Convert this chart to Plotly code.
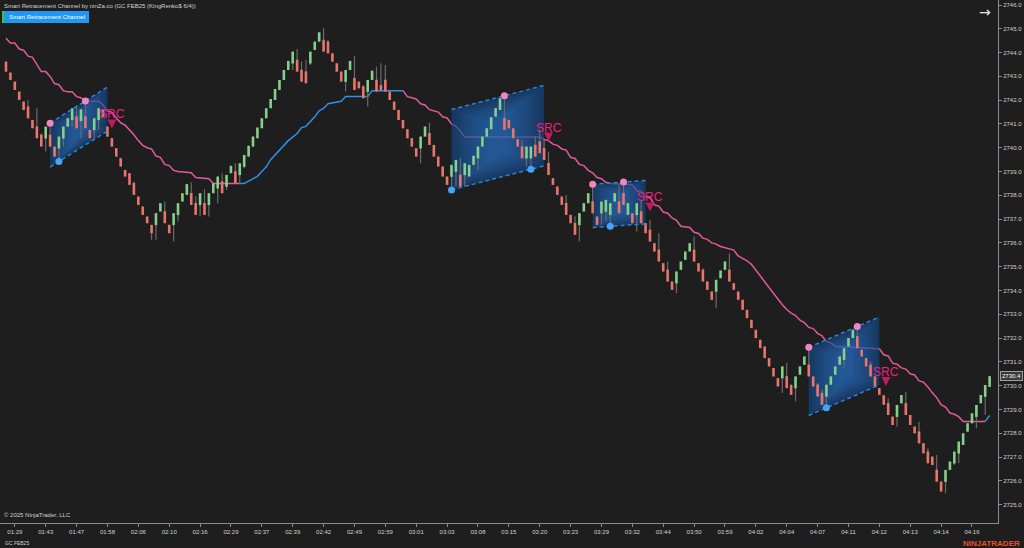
import plotly.graph_objects as go

# ---------------- data ----------------
open_ = [2743.62,2743.16,2742.78,2742.36,2741.94,2741.74,2741.17,2740.90,2740.55,2740.39,
         2740.55,2740.05,2739.97,2740.39,2740.89,2741.16,2741.32,2741.12,2741.32,2740.75,
         2740.74,2741.16,2741.59,2740.89,2740.40,2739.98,2739.56,2739.07,2738.93,2738.52,
         2737.95,2737.53,2737.11,2736.76,2736.75,2737.32,2737.33,2736.76,2736.75,2737.17,
         2737.74,2738.02,2738.10,2737.68,2737.59,2737.68,2737.59,2738.09,2738.29,2738.59,
         2738.36,2738.93,2739.01,2738.85,2739.20,2739.63,2740.05,2740.40,2740.82,2741.24,
         2741.66,2742.01,2742.43,2742.85,2743.27,2743.54,2743.70,2743.28,2743.21,2743.54,
         2744.11,2744.46,2744.54,2744.47,2743.97,2743.55,2743.20,2742.77,2743.27,2742.93,
         2742.78,2742.58,2742.35,2742.85,2742.86,2742.63,2742.86,2742.36,2741.94,2741.59,
         2741.17,2740.78,2740.40,2739.98,2739.97,2740.47,2740.62,2740.12,2739.63,2739.21,
         2738.79,2738.78,2738.99,2738.87,2738.85,2738.79,2739.28,2739.55,2740.05,2740.47,
         2740.78,2741.31,2741.59,2741.25,2741.17,2740.82,2740.36,2740.06,2739.55,2739.55,
         2740.13,2740.27,2739.99,2739.36,2738.72,2738.37,2737.95,2737.68,2737.18,2736.84,
         2736.75,2737.32,2737.67,2737.75,2737.11,2737.24,2737.31,2737.17,2737.74,2737.75,
         2738.10,2737.18,2737.25,2737.17,2737.33,2736.83,2736.56,2735.99,2735.72,2735.15,
         2734.88,2734.38,2734.30,2734.87,2735.29,2735.64,2735.72,2735.15,2734.88,2734.38,
         2733.96,2733.95,2734.52,2734.87,2734.88,2734.31,2733.96,2733.61,2733.19,2732.77,
         2732.35,2731.93,2731.65,2731.16,2730.74,2730.32,2730.31,2730.40,2730.04,2729.89,
         2730.46,2730.88,2730.89,2730.39,2730.05,2729.70,2729.54,2730.04,2730.46,2730.88,
         2731.08,2731.65,2732.00,2732.08,2731.51,2731.16,2730.89,2730.39,2729.90,2729.60,
         2729.27,2728.70,2728.69,2729.26,2729.27,2728.77,2728.28,2728.08,2727.58,2727.24,
         2727.02,2726.47,2725.97,2725.96,2726.46,2726.73,2727.15,2727.51,2728.07,2728.42,
         2728.69,2729.26,2729.53,2729.95]
high = [2743.62,2743.16,2742.78,2742.36,2741.94,2742.01,2741.17,2741.66,2740.61,2740.89,
        2741.03,2740.05,2740.47,2740.89,2741.24,2741.66,2741.80,2741.62,2741.97,2740.75,
        2741.24,2741.66,2741.59,2740.89,2740.40,2739.98,2739.56,2739.07,2738.93,2738.58,
        2737.95,2737.53,2737.11,2736.76,2737.25,2737.67,2737.74,2736.76,2737.25,2737.67,
        2738.09,2738.47,2738.55,2737.95,2738.09,2738.26,2738.09,2738.51,2738.79,2738.93,
        2738.86,2739.24,2739.35,2739.35,2739.70,2740.08,2740.47,2740.85,2741.24,2741.66,
        2742.05,2742.47,2742.85,2743.27,2743.65,2744.04,2744.15,2743.62,2743.69,2744.04,
        2744.46,2744.85,2745.02,2744.53,2743.97,2743.55,2743.20,2743.27,2743.65,2743.87,
        2742.78,2742.64,2742.85,2743.24,2743.41,2743.55,2743.48,2742.36,2741.94,2741.59,
        2741.17,2740.78,2740.40,2739.98,2740.47,2740.89,2741.06,2740.12,2739.63,2739.21,
        2738.79,2739.28,2739.49,2739.56,2739.35,2739.28,2739.66,2740.05,2740.47,2740.82,
        2741.28,2741.66,2742.08,2742.19,2741.17,2740.82,2740.36,2740.33,2740.05,2740.05,
        2740.47,2740.75,2740.33,2739.84,2738.72,2738.37,2737.95,2738.02,2737.18,2737.11,
        2737.25,2737.67,2738.09,2738.51,2737.11,2737.74,2737.81,2737.67,2738.09,2738.44,
        2738.58,2737.67,2737.25,2737.67,2737.81,2736.83,2736.97,2735.99,2736.41,2735.15,
        2735.22,2734.38,2734.80,2735.22,2735.64,2735.99,2736.27,2735.15,2734.94,2734.38,
        2733.96,2734.45,2734.84,2735.22,2735.57,2734.31,2733.96,2733.61,2733.19,2732.77,
        2732.35,2731.93,2731.65,2731.16,2730.74,2730.32,2730.81,2730.95,2730.04,2730.39,
        2730.81,2731.23,2731.65,2730.39,2730.11,2729.83,2730.04,2730.39,2730.81,2731.23,
        2731.58,2732.00,2732.35,2732.49,2731.51,2731.16,2731.02,2730.39,2729.90,2729.60,
        2729.47,2728.70,2729.19,2729.61,2729.75,2728.77,2728.28,2728.49,2727.58,2727.37,
        2727.02,2727.09,2725.97,2726.46,2726.81,2727.23,2727.65,2728.00,2728.42,2728.84,
        2729.19,2729.61,2730.03,2730.40]
low = [2743.20,2742.85,2742.43,2742.01,2741.59,2741.24,2740.82,2740.40,2740.05,2739.84,
       2740.05,2739.63,2739.42,2740.05,2740.89,2740.89,2740.82,2740.40,2740.82,2740.40,
       2740.33,2740.75,2741.31,2740.47,2740.05,2739.63,2739.21,2738.79,2738.44,2738.02,
       2737.60,2737.18,2736.83,2736.13,2736.13,2737.32,2736.83,2736.41,2736.06,2736.90,
       2737.74,2738.02,2737.60,2737.18,2737.11,2737.18,2737.11,2738.09,2737.67,2738.09,
       2738.23,2738.93,2738.51,2738.51,2739.14,2739.63,2740.05,2740.40,2740.82,2741.24,
       2741.66,2742.01,2742.43,2742.85,2743.27,2743.27,2743.20,2742.78,2742.71,2743.48,
       2744.11,2744.46,2744.04,2743.97,2743.62,2743.20,2742.78,2742.36,2743.27,2742.43,
       2742.50,2742.08,2741.73,2742.85,2742.36,2742.43,2742.36,2742.01,2741.59,2741.17,
       2740.82,2740.40,2740.05,2739.63,2739.35,2740.47,2740.12,2739.63,2739.21,2738.79,
       2738.44,2738.23,2738.37,2738.37,2738.37,2738.79,2739.28,2739.07,2740.05,2740.47,
       2740.75,2741.31,2741.59,2740.75,2740.82,2740.40,2740.05,2739.56,2739.21,2739.10,
       2739.63,2739.77,2739.49,2738.86,2738.44,2738.02,2737.60,2737.18,2736.83,2736.34,
       2736.06,2737.32,2737.67,2737.25,2736.76,2736.76,2736.90,2736.72,2737.74,2737.25,
       2737.60,2737.18,2736.83,2736.48,2736.83,2736.41,2736.06,2735.64,2735.22,2734.80,
       2734.38,2734.03,2733.89,2734.87,2735.29,2735.64,2735.22,2734.80,2734.38,2734.03,
       2733.61,2733.26,2734.52,2734.87,2734.38,2734.03,2733.61,2733.19,2732.84,2732.42,
       2732.00,2731.58,2731.16,2730.81,2730.39,2729.97,2729.69,2729.90,2729.62,2729.34,
       2730.46,2730.88,2730.39,2729.97,2729.55,2729.20,2729.06,2730.04,2730.46,2730.88,
       2730.74,2731.65,2732.00,2731.58,2731.23,2730.81,2730.39,2729.97,2729.62,2729.20,
       2728.77,2728.35,2728.28,2729.26,2728.77,2728.35,2728.00,2727.58,2727.16,2726.74,
       2726.67,2725.97,2725.55,2725.48,2726.46,2726.67,2726.74,2727.51,2728.07,2728.42,
       2728.21,2729.26,2728.77,2729.95]
close = [2743.20,2742.85,2742.43,2742.01,2741.59,2741.24,2740.82,2740.40,2740.05,2740.89,
         2740.05,2739.63,2740.47,2740.89,2741.24,2741.66,2740.82,2741.62,2740.82,2740.40,
         2741.24,2741.66,2741.31,2740.47,2740.05,2739.63,2739.21,2738.79,2738.44,2738.02,
         2737.60,2737.18,2736.83,2736.41,2737.25,2737.67,2736.83,2736.41,2737.25,2737.67,
         2738.09,2738.47,2737.60,2737.18,2738.09,2737.18,2738.09,2738.51,2738.79,2738.09,
         2738.86,2739.24,2738.51,2739.35,2739.70,2740.08,2740.47,2740.85,2741.24,2741.66,
         2742.05,2742.47,2742.85,2743.27,2743.65,2744.04,2743.20,2742.78,2742.71,2744.04,
         2744.46,2744.85,2744.04,2743.97,2743.62,2743.20,2742.78,2743.27,2743.65,2742.43,
         2742.50,2742.08,2742.85,2743.24,2742.36,2742.43,2742.36,2742.01,2741.59,2741.17,
         2740.82,2740.40,2740.05,2739.63,2740.47,2740.89,2740.12,2739.63,2739.21,2738.79,
         2738.44,2739.28,2739.49,2738.37,2739.35,2739.28,2739.66,2740.05,2740.47,2740.82,
         2741.28,2741.66,2742.08,2740.75,2740.82,2740.40,2740.05,2739.56,2740.05,2740.05,
         2739.63,2739.77,2739.49,2738.86,2738.44,2738.02,2737.60,2737.18,2736.83,2736.34,
         2737.25,2737.67,2738.09,2737.25,2736.76,2737.74,2737.81,2737.67,2738.09,2737.25,
         2737.60,2737.67,2736.83,2737.67,2736.83,2736.41,2736.06,2735.64,2735.22,2734.80,
         2734.38,2734.03,2734.80,2735.22,2735.64,2735.99,2735.22,2734.80,2734.38,2734.03,
         2733.61,2734.45,2734.84,2735.22,2734.38,2734.03,2733.61,2733.19,2732.84,2732.42,
         2732.00,2731.58,2731.16,2730.81,2730.39,2729.97,2730.81,2729.90,2729.62,2730.39,
         2730.81,2731.23,2730.39,2729.97,2729.55,2729.20,2730.04,2730.39,2730.81,2731.23,
         2731.58,2732.00,2732.35,2731.58,2731.23,2730.81,2730.39,2729.97,2729.62,2729.20,
         2728.77,2728.35,2729.19,2729.61,2728.77,2728.35,2728.00,2727.58,2727.16,2726.74,
         2726.67,2725.97,2725.55,2726.46,2726.81,2727.23,2727.65,2728.00,2728.42,2728.84,
         2729.19,2729.61,2730.03,2730.40]

tick_bars = [2, 9, 16, 23, 30, 37, 44, 51, 58, 65, 72, 79, 86, 93, 100, 107,
             114, 121, 128, 135, 142, 149, 156, 163, 170, 177, 184, 191, 198, 205, 212, 219]
tick_labels = ["01:29", "01:43", "01:47", "01:58", "02:06", "02:10", "02:16", "02:29",
               "02:37", "02:39", "02:42", "02:49", "02:59", "03:01", "03:03", "03:08",
               "03:15", "03:20", "03:23", "03:29", "03:32", "03:44", "03:50", "03:59",
               "04:02", "04:04", "04:07", "04:11", "04:12", "04:13", "04:14", "04:16"]
price_ticks = list(range(2725, 2747))

# trailing stop line (bar index, price)
pink1_x = [0,1,2,3,4,5,6,7,8,9,10,11,12,13,14,15,16,17,18,21,22,23,24,25,26,27,28,29,30,31,32,33,34,35,36,37,38,39,42,43,46,47,53]
pink1_y = [2744.6,2744.4,2744.4,2744.15,2744.1,2743.85,2743.8,2743.5,2743.2,2743.2,2743.0,2742.7,2742.65,2742.4,2742.35,2742.35,2742.15,2742.1,2741.95,2741.95,2741.8,2741.55,2741.5,2741.25,2741.05,2740.95,2740.75,2740.55,2740.3,2740.1,2740.0,2739.95,2739.65,2739.6,2739.3,2739.25,2739.05,2739.0,2738.95,2738.75,2738.7,2738.5,2738.5]
blue1_x = [53,54,55,56,57,58,59,60,61,62,63,64,65,66,67,68,69,70,71,72,73,76,77,82,83,90]
blue1_y = [2738.5,2738.5,2738.6,2738.7,2738.8,2739.0,2739.2,2739.5,2739.7,2739.9,2740.1,2740.3,2740.45,2740.6,2740.85,2740.9,2741.1,2741.3,2741.55,2741.65,2741.85,2741.95,2742.15,2742.15,2742.4,2742.4]
pink2_x = [90,91,92,93,94,95,96,97,98,99,100,101,102,103,104,121,122,123,124,125,126,127,128,129,130,131,132,133,134,135,136,137,
           142,143,144,145,146,147,148,149,150,151,152,153,155,156,157,158,159,160,161,162,163,165,166,167,168,169,170,171,172,173,174,175,176,177,178,179,180,181,182,183,184,185,186,187,188,
           198,199,200,201,202,203,204,205,206,207,208,209,210,211,212,213,214,215,216,217,222]
pink2_y = [2742.4,2742.15,2742.1,2742.05,2741.85,2741.8,2741.6,2741.55,2741.5,2741.3,
           2741.25,2741.0,2740.9,2740.7,2740.45,2740.45,2740.35,2740.3,2740.15,2740.1,
           2739.95,2739.9,2739.6,2739.55,2739.3,2739.25,2739.05,2738.95,2738.75,2738.7,
           2738.55,2738.5,2738.45,2738.2,2738.15,2737.95,2737.9,2737.6,2737.55,2737.3,
           2737.25,2737.05,2736.95,2736.7,2736.65,2736.45,2736.4,2736.2,2736.15,2736.0,
           2735.95,2735.85,2735.8,2735.7,2735.45,2735.35,2735.25,2735.1,2734.85,2734.6,
           2734.35,2734.1,2733.9,2733.65,2733.4,2733.2,2733.05,2732.95,2732.75,2732.65,
           2732.45,2732.4,2732.2,2732.1,2731.85,2731.8,2731.65,2731.55,2731.3,2731.25,
           2730.95,2730.9,2730.75,2730.7,2730.5,2730.45,2730.2,2730.15,2729.95,2729.7,
           2729.5,2729.2,2729.1,2728.85,2728.8,2728.7,2728.5,2728.5]
blue2_x = [222, 223]
blue2_y = [2728.5, 2728.75]

# retracement channels
ch_start = [10, 101, 133, 182]
ch_end = [23, 122, 145, 198]
ch_top_start = [2741.04, 2741.61, 2738.47, 2731.61]
ch_top_end = [2742.55, 2742.62, 2738.62, 2732.89]
ch_bot_start = [2739.19, 2738.23, 2736.65, 2728.75]
ch_bot_end = [2740.70, 2739.24, 2736.80, 2730.03]

pivot_high_x = [10, 18, 113, 133, 140, 182, 193]
pivot_high_y = [2741.03, 2741.97, 2742.19, 2738.47, 2738.56, 2731.62, 2732.49]
pivot_low_x = [12, 101, 119, 137, 186]
pivot_low_y = [2739.42, 2738.23, 2739.10, 2736.70, 2729.07]

src_x = [24, 123, 146, 199.5]
src_arrow_y = [2740.81, 2740.26, 2737.32, 2729.99]
src_text_y = [2741.42, 2740.83, 2737.91, 2730.58]

last_price = 2730.4

# ---------------- styling ----------------
BG = "#1e1e1e"
GREEN = "#86cf8c"
RED = "#e8766c"
WICK = "#6a6a6a"
PINK = "#e4589e"
BLUE = "#2f8fe6"
AXIS = "#8c8c8c"
TXT = "#d2d2d2"
FONT = "Liberation Sans, Arial, sans-serif"

N = len(close)
idx = list(range(N))

fig = go.Figure()

# trailing lines (under the channel fills)
for xs, ys, col in [(pink1_x, pink1_y, PINK), (blue1_x, blue1_y, BLUE),
                    (pink2_x, pink2_y, PINK), (blue2_x, blue2_y, BLUE)]:
    fig.add_trace(go.Scatter(x=xs, y=ys, mode="lines", line=dict(color=col, width=1.5),
                             hoverinfo="skip", showlegend=False))

# channels with a soft gradient
for s, e, ts, te, bs, be in zip(ch_start, ch_end, ch_top_start, ch_top_end, ch_bot_start, ch_bot_end):
    px = [s, s, e, e, s]
    py = [bs, ts, te, be, bs]
    cx = (s + e) / 2.0
    cy = (ts + te + bs + be) / 4.0
    fig.add_trace(go.Scatter(x=px, y=py, mode="lines", fill="toself",
                             fillcolor="rgba(20,74,136,0.64)", line=dict(width=0),
                             hoverinfo="skip", showlegend=False))
    for k in range(1, 10):
        fx = 1.0 - 0.09 * k
        fy = 1.0 - 0.06 * k
        fig.add_trace(go.Scatter(x=[cx + fx * (a - cx) for a in px],
                                 y=[cy + fy * (b - cy) for b in py],
                                 mode="lines", fill="toself", fillcolor="rgba(52,132,210,0.07)",
                                 line=dict(width=0), hoverinfo="skip", showlegend=False))

# candles: wicks then bodies (drawn above the channel fill)
wx, wy = [], []
for i, h, l in zip(idx, high, low):
    wx += [i, i, None]
    wy += [l, h, None]
fig.add_trace(go.Scatter(x=wx, y=wy, mode="lines", line=dict(color=WICK, width=1.2),
                         hoverinfo="skip", showlegend=False))
gx, gy, rx, ry = [], [], [], []
for i, o, c in zip(idx, open_, close):
    lo, hi = min(o, c), max(o, c)
    if hi - lo < 0.04:
        hi = lo + 0.04
    if c >= o:
        gx += [i, i, None]; gy += [lo, hi, None]
    else:
        rx += [i, i, None]; ry += [lo, hi, None]
fig.add_trace(go.Scatter(x=gx, y=gy, mode="lines", line=dict(color=GREEN, width=2.6),
                         hoverinfo="skip", showlegend=False))
fig.add_trace(go.Scatter(x=rx, y=ry, mode="lines", line=dict(color=RED, width=2.6),
                         hoverinfo="skip", showlegend=False))

# channel dashed borders
for s, e, ts, te, bs, be in zip(ch_start, ch_end, ch_top_start, ch_top_end, ch_bot_start, ch_bot_end):
    for y0, y1 in [(ts, te), (bs, be)]:
        fig.add_trace(go.Scatter(x=[s, e], y=[y0, y1], mode="lines",
                                 line=dict(color="#2c82d6", width=1.5, dash="4px,3px"),
                                 hoverinfo="skip", showlegend=False))

# pivots
fig.add_trace(go.Scatter(x=pivot_high_x, y=pivot_high_y, mode="markers",
                         marker=dict(color="#ee86c2", size=7, line_width=0),
                         hoverinfo="skip", showlegend=False))
fig.add_trace(go.Scatter(x=pivot_low_x, y=pivot_low_y, mode="markers",
                         marker=dict(color="#46a3f5", size=7, line_width=0),
                         hoverinfo="skip", showlegend=False))

# signal arrows and labels
fig.add_trace(go.Scatter(x=src_x, y=src_arrow_y, mode="markers",
                         marker=dict(symbol="arrow-down", color="#c21866", size=9, line_width=0),
                         hoverinfo="skip", showlegend=False))
for sx, sy in zip(src_x, src_text_y):
    fig.add_annotation(x=sx, y=sy, text="SRC", showarrow=False,
                       font=dict(family=FONT, size=12, color="#f0207e"),
                       xanchor="center", yanchor="middle")

PW, PH = 998.0, 523.0
def px_(x):
    return x / PW
def py_(y):
    return 1 - y / PH

# header / footer texts
fig.add_annotation(xref="paper", yref="paper", x=px_(2), y=py_(6),
                   text="Smart Retracement Channel by ninZa.co (GC FEB25 (KingRenko$ 6/4))",
                   showarrow=False, xanchor="left", yanchor="middle",
                   font=dict(family=FONT, size=6, color=TXT))
fig.add_shape(type="rect", xref="paper", yref="paper", x0=px_(2), x1=px_(89),
              y0=py_(23), y1=py_(11), fillcolor="#2196f3", line_width=0)
fig.add_shape(type="rect", xref="paper", yref="paper", x0=px_(2), x1=px_(4),
              y0=py_(23), y1=py_(11), fillcolor="#3cc43c", line_width=0)
fig.add_annotation(xref="paper", yref="paper", x=px_(47), y=py_(17),
                   text="Smart Retracement Channel", showarrow=False,
                   xanchor="center", yanchor="middle",
                   font=dict(family=FONT, size=6, color="#ffffff"))
fig.add_annotation(xref="paper", yref="paper", x=px_(985), y=py_(12), text="→",
                   showarrow=False, xanchor="center", yanchor="middle",
                   font=dict(family="DejaVu Sans", size=14, color="#e6e6e6"))
fig.add_annotation(xref="paper", yref="paper", x=px_(2), y=py_(515),
                   text="© 2025 NinjaTrader, LLC", showarrow=False,
                   xanchor="left", yanchor="middle",
                   font=dict(family=FONT, size=6, color=TXT))
fig.add_annotation(xref="paper", yref="paper", x=px_(3), y=py_(543),
                   text="GC FEB25", showarrow=False, xanchor="left", yanchor="middle",
                   font=dict(family=FONT, size=5, color=TXT))
fig.add_annotation(xref="paper", yref="paper", x=px_(1022), y=py_(543),
                   text="<b>NINJATRADER</b>", showarrow=False, xanchor="right", yanchor="middle",
                   font=dict(family=FONT, size=8, color="#e9502c"))
fig.add_annotation(xref="paper", yref="y", x=px_(1000), y=last_price,
                   text="2730.4", showarrow=False, xanchor="left", yanchor="middle",
                   bgcolor="#3a3a3a", bordercolor="#a0a0a0", borderwidth=1, borderpad=1,
                   font=dict(family=FONT, size=6, color="#ffffff"))

fig.update_layout(
    width=1024, height=548,
    margin=dict(l=0, r=26, t=0, b=25, pad=0),
    paper_bgcolor=BG, plot_bgcolor=BG,
    showlegend=False,
    font=dict(family=FONT, size=6, color=TXT),
    xaxis=dict(range=[-1.36, 224.9], tickmode="array", tickvals=tick_bars, ticktext=tick_labels,
               showgrid=False, zeroline=False, showline=True, linecolor=AXIS, linewidth=1,
               ticks="outside", ticklen=3, tickcolor=AXIS, automargin=False,
               tickfont=dict(family=FONT, size=6, color=TXT), fixedrange=True),
    yaxis=dict(side="right", range=[2724.23, 2746.21], tickmode="array", tickvals=price_ticks,
               ticktext=["%.1f" % v for v in price_ticks], automargin=False,
               showgrid=False, zeroline=False, showline=True, linecolor=AXIS, linewidth=1,
               ticks="outside", ticklen=3, tickcolor=AXIS,
               tickfont=dict(family=FONT, size=6, color=TXT), fixedrange=True),
)

fig.write_html("out.html", config={"displayModeBar": False},
               post_script="document.body.style.margin='0px';document.body.style.overflow='hidden';")
